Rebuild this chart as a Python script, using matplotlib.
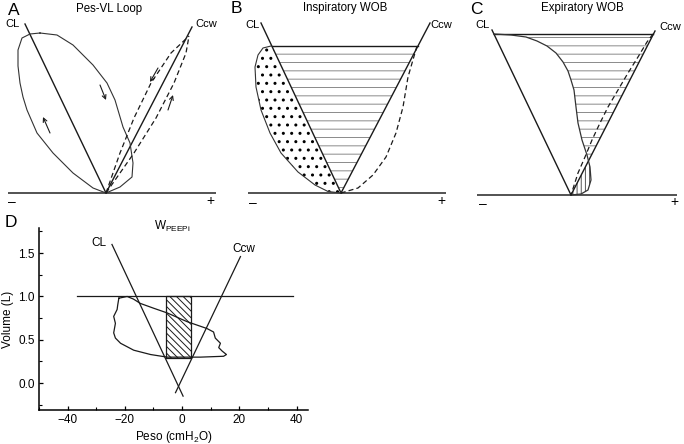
import matplotlib.pyplot as plt
import numpy as np

plt.rcParams['font.family'] = ['Liberation Sans', 'DejaVu Sans']
plt.rcParams['mathtext.default'] = 'regular'
plt.rcParams['hatch.linewidth'] = 0.7

# ---- panel A: Pes-VL loop (schematic units, CL/Ccw apex at 0,0) ----
A_BASE_X = [-98, 110]
A_CL_X, A_CL_Y = [-81, 0], [169, 0]
A_CCW_X, A_CCW_Y = [86, 0], [166, 0]
A_LOOP_X = [-66, -76, -84, -88, -88, -86, -83, -79, -69, -53, -33, -13, 0,
            14, 26, 27, 24, 17, 9, 1, -13, -33, -49, -66]
A_LOOP_Y = [160, 159, 155, 143, 127, 110, 96, 83, 60, 40, 20, 5, 0,
            6, 16, 30, 50, 66, 93, 110, 128, 148, 158, 160]
A_DASH_L_X, A_DASH_L_Y = [0, 14, 28, 45, 65, 83], [0, 40, 75, 110, 140, 157]
A_DASH_R_X, A_DASH_R_Y = [0, 28, 50, 68, 80, 83], [0, 40, 75, 110, 140, 157]
A_ARROW_TAIL = [(-56, 60), (-6, 108), (52, 125), (62, 83)]
A_ARROW_HEAD = [(-63, 76), (0, 93), (44, 111), (67, 98)]

# ---- panel B: inspiratory WOB ----
B_BASE_X = [-93, 105]
B_CL_X, B_CL_Y = [-80, 0], [170, 0]
B_CCW_X, B_CCW_Y = [89, 0], [170, 0]
B_VT = 147
B_LOOP_X = [-70, -78, -83, -86, -85, -80, -71, -60, -43, -26, -13, 0]
B_LOOP_Y = [147, 145, 138, 126, 106, 83, 60, 40, 21, 8, 1.5, 0]
B_DASH_X = [76, 67, 62, 55, 45, 32, 17, 0]
B_DASH_Y = [147, 116, 86, 60, 36, 18, 5, 0]

# ---- panel C: expiratory WOB ----
C_BASE_X = [-94, 106]
C_CL_X, C_CL_Y = [-79, 0], [165, 0]
C_CCW_X, C_CCW_Y = [84, 0], [164, 0]
C_VT = 161
C_CURVE_X = [-77, -60, -45, -34, -24, -15, -8, -3, 0, 3, 5, 7, 11, 16, 19, 20, 17, 10, 0]
C_CURVE_Y = [161, 160, 158, 154, 149, 142, 133, 124, 115, 105, 88, 72, 55, 40, 28, 15, 5, 1, 0]
C_DASH_X = [82, 76, 67, 57, 47, 37, 29, 21, 14, 7, 0]
C_DASH_Y = [161, 153, 138, 122, 105, 88, 72, 55, 38, 22, 0]

# ---- panel D: W_PEEPi ----
D_VT_PESO = [-36.7, 38.6]
D_VT_VOL = 1.0
D_CL_PESO, D_CL_VOL = [-24.5, 0.35], [1.60, -0.15]
D_CCW_PESO, D_CCW_VOL = [20.4, -2.3], [1.46, -0.11]
D_BOX_PESO = [-5.6, 3.1]
D_BOX_VOL = [0.29, 1.0]
D_LOOP_PESO = [-22.1, -19.2, -17.0, -14.6, -10.0, -5.2, 1.7, 8.7, 11.0, 11.6, 13.4, 12.8,
               14.0, 15.5, 14.5, 6.4, -5.2, -11.0, -16.9, -21.5, -23.3, -23.9, -23.3,
               -23.9, -22.7, -22.5, -22.1]
D_LOOP_VOL = [0.98, 1.0, 0.97, 0.92, 0.865, 0.81, 0.71, 0.63, 0.59, 0.52, 0.46, 0.41,
              0.37, 0.33, 0.31, 0.30, 0.30, 0.33, 0.38, 0.46, 0.52, 0.58, 0.69,
              0.77, 0.85, 0.90, 0.98]

W, H = 684, 444
INK = '#1a1a1a'
fig = plt.figure(figsize=(W / 100, H / 100), dpi=100)


def schematic_axes(px_left, px_right, apex_px, base_py):
    # one data unit = one pixel, origin at the CL/Ccw apex
    ax = fig.add_axes([px_left / W, (H - 210) / H, (px_right - px_left) / W, 210 / H])
    ax.set_xlim(px_left - apex_px, px_right - apex_px)
    ax.set_ylim(base_py - 210, base_py)
    ax.axis('off')
    return ax


def frame(ax, base_x, cl, ccw, letter, title, pos):
    ax.plot(base_x, [0, 0], color='#444', lw=1.3, solid_capstyle='butt')
    ax.plot(*cl, color=INK, lw=1.0)
    ax.plot(*ccw, color=INK, lw=1.0)
    (lx, ly), (tx, ty), (clx, cly), (cwx, cwy), (mx, my), (px, py) = pos
    ax.text(lx, ly, letter, fontsize=12.5, va='center', ha='left')
    ax.text(tx, ty, title, fontsize=8.3, va='center', ha='center')
    ax.text(clx, cly, 'CL', fontsize=8, va='center', ha='left')
    ax.text(cwx, cwy, 'Ccw', fontsize=8, va='center', ha='left')
    ax.text(mx, my, '–', fontsize=10, va='center', ha='left')
    ax.text(px, py, '+', fontsize=10, va='center', ha='center')


# A
axA = schematic_axes(0, 228, 106, 193)
frame(axA, A_BASE_X, (A_CL_X, A_CL_Y), (A_CCW_X, A_CCW_Y), 'A', 'Pes-VL Loop',
      [(-98, 182), (3, 184), (-101, 169), (89, 169), (-98, -9), (104, -8)])
axA.plot(A_LOOP_X, A_LOOP_Y, color='#333', lw=0.8)
axA.plot(A_DASH_L_X, A_DASH_L_Y, color=INK, lw=0.9, ls=(0, (4, 2.5)))
axA.plot(A_DASH_R_X, A_DASH_R_Y, color=INK, lw=0.9, ls=(0, (4, 2.5)))
for tail, head in zip(A_ARROW_TAIL, A_ARROW_HEAD):
    axA.annotate('', xy=head, xytext=tail,
                 arrowprops=dict(arrowstyle='->', lw=0.8, color=INK,
                                 shrinkA=0, shrinkB=0, mutation_scale=7))

# B
axB = schematic_axes(228, 456, 341, 193)
frame(axB, B_BASE_X, (B_CL_X, B_CL_Y), (B_CCW_X, B_CCW_Y), 'B', 'Inspiratory WOB',
      [(-110, 184), (4, 184.5), (-96, 168), (89, 168), (-92, -10), (100, -8)])
b_cl_slope = B_CL_X[0] / B_CL_Y[0]
b_ccw_slope = B_CCW_X[0] / B_CCW_Y[0]
yy = np.array([0, B_VT])
axB.fill_betweenx(yy, b_cl_slope * yy, b_ccw_slope * yy, facecolor='none',
                  edgecolor='#8a8a8a', hatch='--', linewidth=0)
axB.plot([b_cl_slope * B_VT, b_ccw_slope * B_VT], [B_VT, B_VT], color=INK, lw=1.0)
loop_y = np.array(B_LOOP_Y)
with plt.rc_context({'hatch.linewidth': 1.0}):
    axB.fill_betweenx(loop_y, B_LOOP_X, b_cl_slope * loop_y, facecolor='none',
                      edgecolor='black', hatch='..', linewidth=0)
axB.plot(B_LOOP_X, B_LOOP_Y, color='#333', lw=0.8)
axB.plot(B_DASH_X, B_DASH_Y, color=INK, lw=0.9, ls=(0, (4, 2.5)))

# C
axC = schematic_axes(456, 684, 571, 195)
frame(axC, C_BASE_X, (C_CL_X, C_CL_Y), (C_CCW_X, C_CCW_Y), 'C', 'Expiratory WOB',
      [(-101, 185), (11, 187), (-96, 170), (88, 168), (-92, -9), (103, -7)])
c_ccw_slope = C_CCW_X[0] / C_CCW_Y[0]
cy = np.array(C_CURVE_Y)
cx = np.array(C_CURVE_X)
line_x = c_ccw_slope * cy
axC.fill_betweenx(cy, cx, line_x, where=cx <= line_x, interpolate=True,
                  facecolor='none', edgecolor='#8a8a8a', hatch='--', linewidth=0)
axC.fill_betweenx(cy, cx, line_x, where=cx >= line_x, interpolate=True,
                  facecolor='none', edgecolor='#555', hatch='||||', linewidth=0)
axC.plot([C_CL_X[0] * C_VT / C_CL_Y[0], c_ccw_slope * C_VT], [C_VT, C_VT], color=INK, lw=1.0)
axC.plot(C_CURVE_X, C_CURVE_Y, color='#333', lw=0.9)
axC.plot(C_DASH_X, C_DASH_Y, color=INK, lw=0.9, ls=(0, (4, 2.5)))

# D
axD = fig.add_axes([39 / W, 34 / H, 269 / W, 182 / H])
axD.plot(D_VT_PESO, [D_VT_VOL, D_VT_VOL], color=INK, lw=0.9)
axD.plot(D_CL_PESO, D_CL_VOL, color=INK, lw=0.9)
axD.plot(D_CCW_PESO, D_CCW_VOL, color=INK, lw=0.9)
axD.fill_between(D_BOX_PESO, D_BOX_VOL[0], D_BOX_VOL[1], facecolor='white',
                 edgecolor=INK, hatch='\\\\\\\\\\', linewidth=0.9)
axD.plot(D_LOOP_PESO, D_LOOP_VOL, color=INK, lw=0.9)
axD.text(-26.5, 1.62, 'CL', fontsize=8.5, ha='right', va='center')
axD.text(21.4, 1.55, 'Ccw', fontsize=8.5, ha='center', va='center')
axD.text(-3.5, 1.81, r'W$_{PEEPi}$', fontsize=8.5, ha='center', va='center')
axD.text(-0.128, 1.03, 'D', fontsize=12.5, transform=axD.transAxes, ha='left', va='center')
axD.set_xlim(-50, 44)
axD.set_ylim(-0.31, 1.79)
axD.set_xticks([-40, -20, 0, 20, 40])
axD.set_xticks(np.arange(-50, 45, 10), minor=True)
axD.set_yticks([0.0, 0.5, 1.0, 1.5])
axD.set_yticks(np.arange(-0.25, 1.8, 0.25), minor=True)
axD.set_yticklabels(['0.0', '0.5', '1.0', '1.5'])
axD.tick_params(direction='in', length=3, width=0.9, labelsize=8.5, pad=3)
axD.tick_params(which='minor', direction='in', length=2, width=0.8)
for side in ['top', 'right']:
    axD.spines[side].set_visible(False)
for side in ['left', 'bottom']:
    axD.spines[side].set_linewidth(1.1)
axD.set_xlabel('Peso (cmH$_2$O)', fontsize=8.5, labelpad=2)
axD.set_ylabel('Volume (L)', fontsize=8.5, labelpad=3)

fig.savefig('out.png', dpi=100)
